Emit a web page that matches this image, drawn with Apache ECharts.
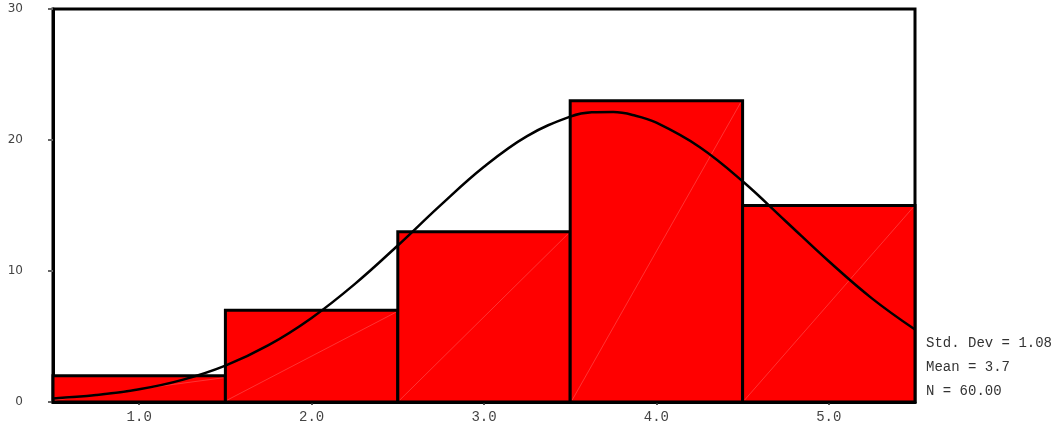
<!DOCTYPE html>
<html>
<head>
<meta charset="utf-8">
<script src="https://cdn.jsdelivr.net/npm/echarts@6/dist/echarts.min.js"></script>
<style>
  html, body { margin: 0; padding: 0; background: #fff; }
  #chart { width: 1060px; height: 430px; }
</style>
</head>
<body>
<div id="chart"></div>
<script>
// histogram bins (lower edge, upper edge, count)
const binLow = [0.5, 1.5, 2.5, 3.5, 4.5]
const binHigh = [1.5, 2.5, 3.5, 4.5, 5.5]
const counts = [2, 7, 13, 23, 15]

// normal curve
const curveX = [0.5, 0.75, 1.0, 1.25, 1.5, 1.75, 2.0, 2.25, 2.5, 2.75, 3.0, 3.25, 3.5, 3.625, 3.75, 3.875, 4.0, 4.25, 4.5, 4.75, 5.0, 5.25, 5.5]
const curveY = [0.27, 0.53, 0.97, 1.69, 2.78, 4.34, 6.42, 9.0, 11.95, 15.05, 17.96, 20.3, 21.78, 22.11, 22.13, 21.87, 21.32, 19.47, 16.85, 13.8, 10.74, 7.91, 5.53]

const xTicks = [1, 2, 3, 4, 5]
const yTicks = [0, 10, 20, 30]
const statsText = ['Std. Dev = 1.08', 'Mean = 3.7', 'N = 60.00']

const chart = echarts.init(document.getElementById('chart'), null, { renderer: 'canvas' })

const barData = counts.map((c, i) => [binLow[i], binHigh[i], c])
const lineData = curveX.map((x, i) => [x, curveY[i]])

const option = {
  animation: false,
  grid: {
    left: 53, right: 145, top: 9, bottom: 28,
    show: true,
    borderColor: '#000',
    borderWidth: 3,
    backgroundColor: 'transparent'
  },
  xAxis: {
    type: 'value',
    min: 0.5,
    max: 5.5,
    splitLine: { show: false },
    axisLine: { show: true, lineStyle: { color: '#000', width: 3 } },
    axisTick: { show: true, customValues: xTicks, length: 3, lineStyle: { color: '#555', width: 2 } },
    axisLabel: {
      customValues: xTicks,
      formatter: v => v.toFixed(1),
      fontFamily: 'Liberation Mono',
      fontSize: 14,
      color: '#444',
      margin: 8
    }
  },
  yAxis: {
    type: 'value',
    min: 0,
    max: 30,
    interval: 10,
    splitLine: { show: false },
    axisLine: { show: true, lineStyle: { color: '#000', width: 3 } },
    axisTick: { show: true, customValues: yTicks, length: 5, lineStyle: { color: '#666', width: 2 } },
    axisLabel: {
      customValues: yTicks,
      fontFamily: 'DejaVu Sans',
      fontSize: 12,
      color: '#444',
      margin: 30
    }
  },
  series: [
    {
      type: 'custom',
      data: barData,
      z: 2,
      renderItem: (params, api) => {
        const p0 = api.coord([api.value(0), 0])
        const p1 = api.coord([api.value(1), api.value(2)])
        return {
          type: 'group',
          children: [
            {
              type: 'rect',
              shape: { x: p0[0], y: p1[1], width: p1[0] - p0[0], height: p0[1] - p1[1] },
              style: { fill: '#ff0000', stroke: '#000', lineWidth: 3 }
            },
            {
              type: 'line',
              shape: { x1: p0[0] + 2, y1: p0[1] - 2, x2: p1[0] - 2, y2: p1[1] + 2 },
              style: { stroke: 'rgba(255,170,170,0.5)', lineWidth: 0.6 }
            }
          ]
        }
      }
    },
    {
      type: 'line',
      data: lineData,
      smooth: 0.4,
      symbol: 'none',
      z: 3,
      lineStyle: { color: '#000', width: 2.5 }
    }
  ],
  graphic: statsText.map((t, i) => ({
    type: 'text',
    left: 926,
    top: 336 + i * 24,
    style: { text: t, font: '14px "Liberation Mono"', fill: '#333' }
  }))
}

chart.setOption(option)
</script>
</body>
</html>
